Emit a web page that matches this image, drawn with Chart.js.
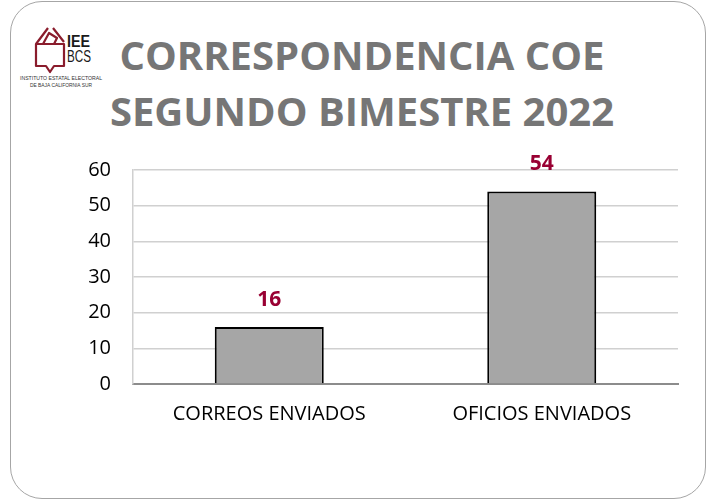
<!DOCTYPE html>
<html><head><meta charset="utf-8">
<script src="https://cdn.jsdelivr.net/npm/chart.js@4.4.0/dist/chart.umd.min.js"></script>
<style>
 body{margin:0;background:#fff;font-family:"Open Sans",sans-serif;}
 #frame{position:absolute;left:10px;top:1px;width:694px;height:496px;border:1.5px solid #a6a6a6;border-radius:32px;}
 #title{position:absolute;left:0;top:27px;width:714px;text-align:center;padding-left:10px;box-sizing:border-box;
   font-weight:bold;font-size:40px;line-height:56px;color:#767676;}
 #logo{position:absolute;left:0;top:0;}
 #wrap{position:absolute;left:0;top:0;width:714px;height:500px;}
</style>
</head>
<body>
<div id="frame"></div>
<svg id="logo" width="120" height="100" viewBox="0 0 120 100">
  <g fill="none" stroke="#8a1c2c" stroke-width="2.2" stroke-linejoin="round">
   <path d="M36 44 L48 28 M53 28 L64 42"/>
   <path d="M36 44 L36 66 L46 66 L50 72 L54 66 L64 66 L64 44 Z"/>
   <path d="M43 44 L49 33 L57 38 L54 44"/>
  </g>
  <text x="67" y="47" font-family="Liberation Sans" font-weight="bold" font-size="17" fill="#1a1a1a" textLength="23" lengthAdjust="spacingAndGlyphs">IEE</text>
  <text x="67" y="62" font-family="Liberation Sans" font-size="16" fill="#1a1a1a" textLength="24" lengthAdjust="spacingAndGlyphs">BCS</text>
  <text x="61" y="80" font-family="Liberation Sans" font-size="5" fill="#333" text-anchor="middle" textLength="82" lengthAdjust="spacingAndGlyphs">INSTITUTO ESTATAL ELECTORAL</text>
  <text x="61" y="87" font-family="Liberation Sans" font-size="5" fill="#333" text-anchor="middle" textLength="62" lengthAdjust="spacingAndGlyphs">DE BAJA CALIFORNIA SUR</text>
</svg>
<div id="title">CORRESPONDENCIA COE<br>SEGUNDO BIMESTRE 2022</div>
<div id="wrap"><canvas id="myChart" width="714" height="500"></canvas></div>
<script>
var categories = ['CORREOS ENVIADOS', 'OFICIOS ENVIADOS'];
var values = [16, 54];
var yTicks = [0, 10, 20, 30, 40, 50, 60];

// draws the value above each bar
var valueLabels = {
  id: 'valueLabels',
  afterDatasetsDraw: function(chart) {
    var ctx = chart.ctx;
    var meta = chart.getDatasetMeta(0);
    ctx.save();
    ctx.font = 'bold 21px "Open Sans"';
    ctx.fillStyle = '#990033';
    ctx.textAlign = 'center';
    ctx.textBaseline = 'middle';
    meta.data.forEach(function(bar, i) {
      ctx.fillText(values[i], bar.x, bar.y - 27);
    });
    ctx.restore();
  }
};

var ctx = document.getElementById('myChart');
var myChart = new Chart(ctx, {
  type: 'bar',
  data: {
    labels: categories,
    datasets: [{
      data: values,
      backgroundColor: '#a6a6a6',
      borderColor: '#000000',
      borderWidth: 2,
      barPercentage: 0.4,
      categoryPercentage: 1
    }]
  },
  plugins: [valueLabels],
  options: {
    responsive: false,
    animation: false,
    layout: { padding: { top: 170, right: 36, left: 0, bottom: 0 } },
    plugins: { legend: { display: false }, tooltip: { enabled: false } },
    scales: {
      x: {
        grid: { display: false, drawTicks: false },
        border: { color: '#8c8c8c', width: 2 },
        ticks: { color: '#000', font: { family: 'Open Sans', size: 20 }, padding: 18 },
        afterFit: function(s) { s.height = 116; }
      },
      y: {
        min: 0, max: 60,
        afterBuildTicks: function(s) { s.ticks = yTicks.map(function(v) { return { value: v }; }); },
        grid: { color: '#d0d0d0', lineWidth: 1.5, drawTicks: false },
        border: { color: '#d0d0d0', width: 1.5 },
        ticks: { color: '#000', font: { family: 'Open Sans', size: 20 }, padding: 22 },
        afterFit: function(s) { s.width = 133; }
      }
    }
  }
});
</script>
</body></html>
